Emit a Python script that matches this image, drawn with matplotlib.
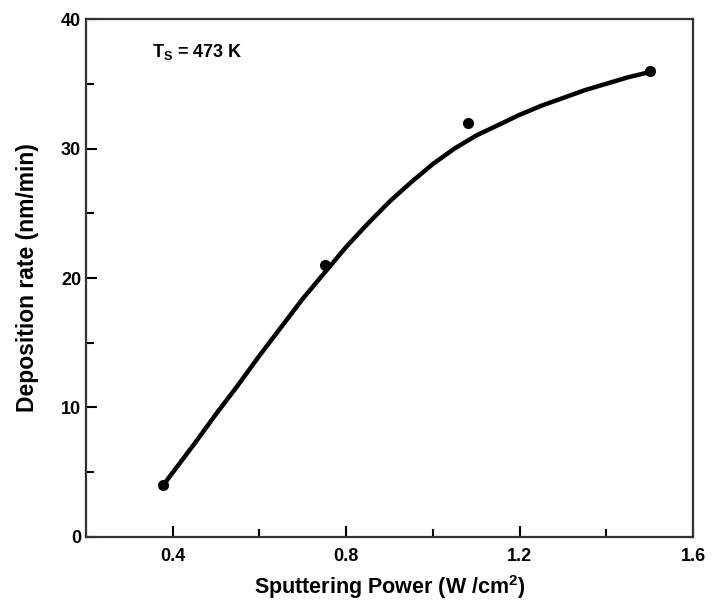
import matplotlib
matplotlib.use('Agg')
import matplotlib.pyplot as plt
from matplotlib.ticker import MultipleLocator

plt.rcParams['font.family'] = 'Liberation Sans'
plt.rcParams['font.weight'] = 'bold'
plt.rcParams['axes.labelweight'] = 'bold'
plt.rcParams['mathtext.fontset'] = 'custom'
plt.rcParams['mathtext.rm'] = 'Liberation Sans:bold'
plt.rcParams['mathtext.default'] = 'rm'

# measured points
power = [0.378, 0.751, 1.081, 1.501]
rate = [4.0, 21.0, 32.0, 36.0]

# fitted curve
curve_x = [0.378, 0.45, 0.50, 0.55, 0.60, 0.65, 0.70, 0.75, 0.80, 0.85, 0.90,
           0.95, 1.00, 1.05, 1.10, 1.15, 1.20, 1.25, 1.30, 1.35, 1.40, 1.45, 1.50]
curve_y = [4.0, 7.2, 9.5, 11.7, 14.0, 16.2, 18.4, 20.4, 22.4, 24.2, 25.9,
           27.4, 28.8, 30.0, 31.0, 31.8, 32.6, 33.3, 33.9, 34.5, 35.0, 35.5, 35.9]

fig = plt.figure(figsize=(7.12, 6.02), dpi=100)
ax = fig.add_axes([0.1208, 0.108, 0.8525, 0.8604])

ax.plot(curve_x, curve_y, color='black', lw=3.2, solid_capstyle='round',
        solid_joinstyle='round')
ax.plot(power, rate, 'o', color='black', ms=7)

ax.set_xlim(0.2, 1.6)
ax.set_ylim(0, 40)
ax.xaxis.set_minor_locator(MultipleLocator(0.2))
ax.yaxis.set_major_locator(MultipleLocator(10))
ax.yaxis.set_minor_locator(MultipleLocator(5))
ax.set_xticks([0.4, 0.8, 1.2, 1.6])
ax.set_xticklabels(['0.4', '0.8', '1.2', '1.6'])

ax.tick_params(which='both', direction='in', width=1.5, labelsize=13,
               top=False, right=False)
ax.tick_params(which='major', length=8)
ax.tick_params(which='minor', length=6)
ax.tick_params(axis='x', pad=8)
for s in ax.spines.values():
    s.set_linewidth(1.6)
    s.set_color('#333333')

ax.set_xlabel('Sputtering Power (W /cm$^{2}$)', fontsize=15.5, labelpad=6)
ax.set_ylabel('Deposition rate (nm/min)', fontsize=16.5, labelpad=16)

ax.text(0.352, 37.45, 'T$_{S}$ = 473 K', fontsize=13, ha='left', va='center')

fig.savefig('out.png', dpi=100)
